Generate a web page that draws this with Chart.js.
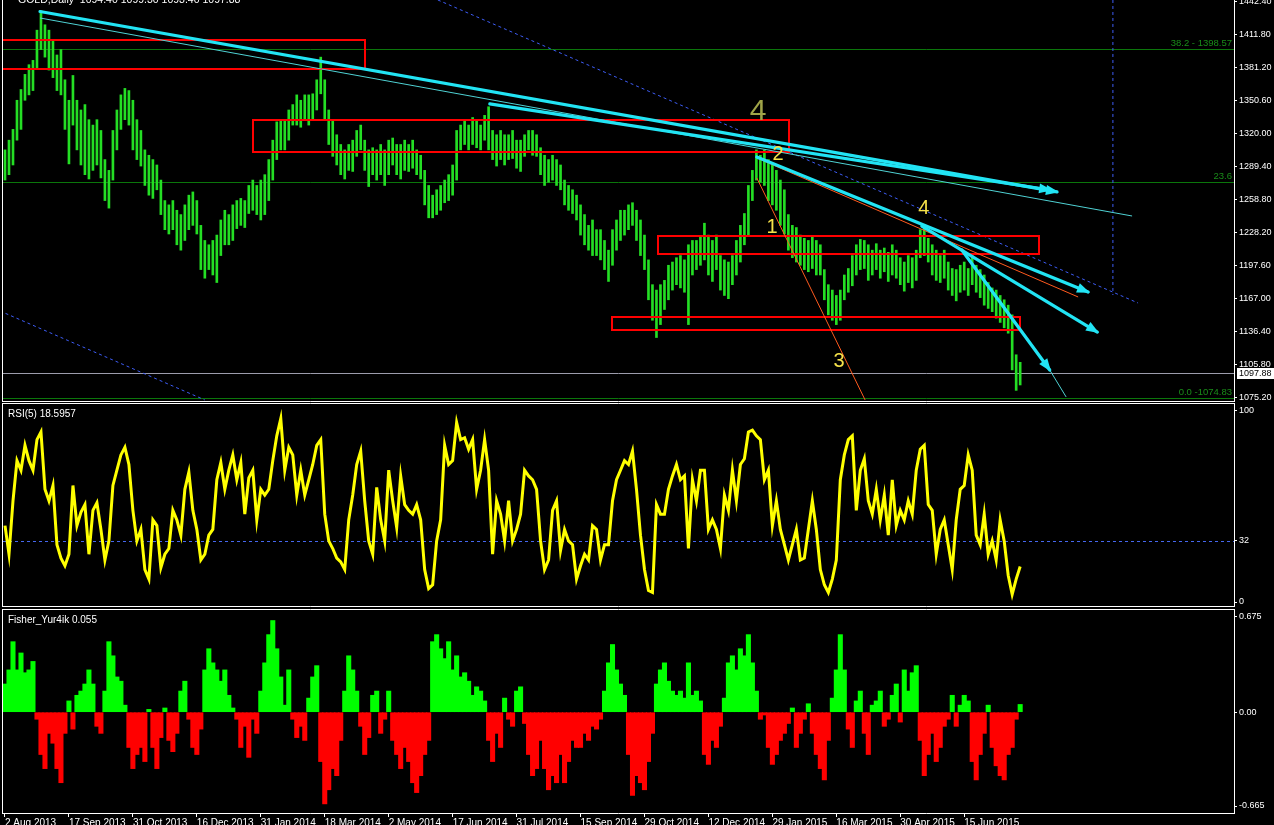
<!DOCTYPE html>
<html>
<head>
<meta charset="utf-8">
<title>GOLD,Daily</title>
<script src="https://cdn.jsdelivr.net/npm/chart.js@4.4.0/dist/chart.umd.min.js"></script>
<style>
html, body { margin: 0; padding: 0; background: #000; }
body { width: 1274px; height: 825px; position: relative; overflow: hidden; }
canvas { position: absolute; left: 0; }
#cPrice { top: 0; }
#cRsi { top: 403px; }
#cFisher { top: 609px; }
</style>
</head>
<body>
<canvas id="cPrice" width="1274" height="402"></canvas>
<canvas id="cRsi" width="1274" height="204"></canvas>
<canvas id="cFisher" width="1274" height="216"></canvas>
<script>
// one slot = two daily bars
var dateTicks = ['2 Aug 2013', '17 Sep 2013', '31 Oct 2013', '16 Dec 2013', '31 Jan 2014', '18 Mar 2014',
  '2 May 2014', '17 Jun 2014', '31 Jul 2014', '15 Sep 2014', '29 Oct 2014', '12 Dec 2014',
  '29 Jan 2015', '16 Mar 2015', '30 Apr 2015', '15 Jun 2015'];

var barHigh = [
  1305,1314,1324,1351,1361,1375,1384,1388,1416,1434,
  1421,1416,1407,1393,1398,1370,1351,1374,1351,1342,
  1347,1333,1328,1333,1323,1296,1286,1323,1342,1356,
  1362,1360,1351,1333,1323,1305,1300,1296,1291,1277,
  1258,1254,1258,1249,1245,1254,1263,1266,1258,1235,
  1221,1217,1221,1226,1240,1249,1245,1254,1258,1260,
  1258,1272,1277,1272,1277,1282,1296,1314,1331,1333,
  1333,1342,1347,1356,1351,1356,1356,1357,1370,1391,
  1370,1342,1333,1319,1310,1305,1310,1314,1323,1328,
  1314,1305,1307,1305,1310,1305,1314,1316,1310,1310,
  1314,1310,1314,1305,1300,1286,1272,1263,1268,1272,
  1277,1282,1291,1323,1328,1333,1328,1335,1333,1328,
  1337,1345,1323,1319,1323,1319,1319,1323,1314,1314,
  1319,1323,1323,1319,1307,1300,1296,1300,1296,1291,
  1277,1272,1268,1263,1254,1245,1235,1240,1231,1231,
  1221,1212,1231,1240,1249,1249,1254,1256,1249,1240,
  1226,1203,1180,1175,1180,1184,1198,1201,1205,1207,
  1203,1217,1221,1221,1225,1237,1226,1221,1226,1207,
  1203,1201,1207,1221,1235,1246,1272,1286,1305,1300,
  1305,1296,1291,1286,1277,1268,1245,1235,1233,1226,
  1223,1221,1225,1221,1217,1194,1180,1175,1170,1175,
  1189,1195,1207,1217,1222,1221,1217,1212,1218,1212,
  1214,1210,1217,1212,1205,1201,1207,1205,1212,1231,
  1236,1223,1217,1212,1207,1212,1201,1195,1194,1198,
  1201,1195,1207,1198,1194,1189,1182,1177,1175,1170,
  1166,1161,1152,1115,1108];

var barLow = [
  1277,1282,1291,1314,1324,1351,1356,1360,1381,1398,
  1391,1379,1372,1360,1356,1324,1292,1328,1305,1291,
  1282,1278,1286,1291,1279,1258,1251,1277,1305,1324,
  1333,1328,1305,1296,1290,1272,1263,1260,1268,1245,
  1231,1227,1231,1217,1212,1221,1231,1235,1227,1194,
  1186,1194,1189,1182,1207,1217,1217,1221,1232,1235,
  1233,1246,1249,1245,1240,1245,1258,1277,1296,1305,
  1305,1314,1328,1328,1326,1333,1328,1333,1342,1357,
  1333,1310,1299,1291,1282,1278,1286,1285,1299,1305,
  1286,1271,1282,1277,1282,1272,1282,1291,1282,1278,
  1286,1285,1288,1282,1278,1254,1242,1242,1245,1249,
  1256,1258,1263,1277,1305,1310,1305,1310,1307,1305,
  1314,1305,1296,1290,1296,1291,1296,1297,1288,1285,
  1299,1305,1300,1299,1282,1272,1275,1277,1272,1268,
  1254,1249,1246,1240,1226,1217,1212,1207,1207,1203,
  1194,1183,1198,1212,1221,1226,1231,1235,1221,1207,
  1194,1166,1147,1131,1143,1157,1166,1175,1180,1177,
  1173,1143,1189,1194,1198,1203,1189,1183,1194,1175,
  1170,1167,1180,1189,1201,1217,1226,1258,1277,1275,
  1272,1258,1254,1249,1235,1227,1212,1205,1201,1198,
  1194,1192,1195,1189,1189,1166,1152,1147,1143,1147,
  1166,1173,1179,1189,1194,1195,1184,1189,1194,1186,
  1192,1183,1189,1186,1180,1174,1182,1177,1184,1205,
  1207,1201,1189,1184,1182,1186,1175,1170,1165,1173,
  1175,1170,1180,1173,1168,1161,1158,1155,1149,1145,
  1140,1135,1101,1082,1087];

var rsiValues = [
  40,25,53,74,69,82,74,69,85,89,
  59,53,61,30,23,19,25,61,40,47,
  51,25,48,52,38,22,32,61,69,77,
  81,72,48,32,38,17,12,43,40,18,
  25,28,48,43,35,59,68,48,38,22,
  25,35,38,64,73,59,69,77,64,73,
  46,65,69,43,59,56,59,74,87,96,
  69,81,77,56,69,56,64,72,82,85,
  46,32,28,23,21,17,43,56,72,79,
  53,32,25,60,43,32,69,53,39,66,
  51,48,46,51,43,17,7,9,32,43,
  82,72,74,94,85,86,80,85,59,69,
  85,69,25,53,46,32,53,32,38,46,
  69,66,64,59,32,17,22,48,53,27,
  38,32,30,12,19,25,22,40,38,22,
  30,30,53,64,69,74,72,79,59,35,
  17,6,5,51,46,46,59,66,72,64,
  66,28,64,53,69,69,38,43,38,28,
  56,48,69,53,72,75,89,90,87,85,
  64,69,40,53,38,30,22,30,38,22,
  23,38,53,38,17,9,5,12,22,64,
  77,85,87,48,69,75,53,46,59,43,
  56,35,64,40,48,43,53,46,69,80,
  82,51,48,25,38,43,30,17,43,59,
  61,77,69,35,30,46,25,32,22,43,
  32,14,4,12,18.5957];

var fisherValues = [
  0.20,0.30,0.50,0.30,0.42,0.28,0.30,0.36,-0.05,-0.30,
  -0.40,-0.15,-0.22,-0.40,-0.50,-0.15,0.08,-0.12,0.12,0.15,
  0.20,0.30,0.20,-0.10,-0.15,0.15,0.50,0.40,0.25,0.22,
  0.05,-0.25,-0.40,-0.30,-0.25,-0.35,0.02,-0.25,-0.40,-0.18,
  0.03,-0.20,-0.28,-0.15,0.15,0.22,-0.05,-0.25,-0.30,-0.12,
  0.30,0.45,0.35,0.30,0.22,0.30,0.12,0.03,-0.05,-0.25,
  -0.10,-0.32,-0.05,-0.15,0.15,0.35,0.55,0.65,0.45,0.25,
  0.05,0.30,-0.05,-0.18,-0.10,-0.20,0.10,0.25,0.33,-0.35,
  -0.65,-0.55,-0.40,-0.45,-0.20,0.15,0.40,0.30,0.15,-0.10,
  -0.30,-0.18,0.12,0.15,-0.15,-0.05,0.15,-0.20,-0.30,-0.40,
  -0.25,-0.35,-0.50,-0.57,-0.45,-0.30,-0.20,0.50,0.55,0.45,
  0.38,0.50,0.30,0.40,0.25,0.28,0.22,0.12,0.18,0.15,
  0.08,-0.20,-0.35,-0.15,-0.25,0.10,-0.05,-0.10,0.15,0.18,
  -0.08,-0.30,-0.45,-0.40,-0.20,-0.40,-0.55,-0.45,-0.50,-0.30,
  -0.50,-0.35,-0.20,-0.25,-0.25,-0.15,-0.20,-0.10,-0.12,-0.05,
  0.15,0.35,0.48,0.30,0.20,0.12,-0.30,-0.59,-0.45,-0.50,
  -0.55,-0.35,-0.15,0.20,0.30,0.35,0.22,0.15,0.12,0.15,
  0.10,0.35,0.12,0.15,0.08,-0.30,-0.37,-0.20,-0.25,-0.10,
  0.10,0.35,0.40,0.30,0.45,0.40,0.55,0.35,0.15,-0.05,
  -0.02,-0.25,-0.37,-0.30,-0.20,-0.15,-0.08,0.03,-0.25,-0.15,
  -0.05,0.06,-0.15,-0.30,-0.40,-0.48,-0.20,0.10,0.30,0.55,
  0.30,-0.12,-0.25,0.08,0.15,-0.15,-0.30,0.05,0.08,0.15,
  -0.10,-0.05,0.12,0.20,-0.07,0.30,0.15,0.28,0.33,-0.20,
  -0.45,-0.30,-0.15,-0.35,-0.25,-0.10,-0.05,0.12,-0.10,0.05,
  0.12,0.08,-0.35,-0.48,-0.30,-0.15,0.05,-0.25,-0.38,-0.45,
  -0.48,-0.30,-0.25,-0.05,0.055];

var priceTicks = [1442.40, 1411.80, 1381.20, 1350.60, 1320.00, 1289.40, 1258.80, 1228.20, 1197.60, 1167.00, 1136.40, 1105.80, 1075.20];
var rsiTicks = [100, 32, 0];
var rsiLevel = 32;
var fisherTicks = [0.675, 0, -0.665];
var fisherTickText = ['0.675', '0.00', '-0.665'];

var lastClose = 1097.88;
var titleText = 'GOLD,Daily  1094.40 1099.30 1093.40 1097.88';
var fiboLevels = [1398.57, 1274.9, 1074.83];
var fiboText = ['38.2 - 1398.57', '23.6', '0.0 -1074.83'];

// chart objects in slot / price units
var zones = [[-3, 1407, 90, 1380], [62, 1333, 196, 1303], [163.5, 1224.7, 258.8, 1208], [151.8, 1150, 253.8, 1138]];
var thickLines = [[8.76, 1433.3, 263.2, 1266.0], [121.3, 1347.6, 261.5, 1267.8], [188.1, 1298.4, 271.0, 1173.2],
  [229.4, 1234.4, 273.3, 1136.1], [239.4, 1212.2, 261.4, 1100.9]];
var thinLines = [[8.76, 1427.3, 282.0, 1243.7], [261.4, 1100.9, 265.5, 1075.9]];
var orangeLines = [[188.1, 1297.5, 268.5, 1168.6], [188.1, 1279.0, 215.2, 1073.1]];
var dashedLines = [[108.3, 1444, 283.5, 1163.0], [-1.25, 1155.6, 50.0, 1073.1], [277.2, 1444, 277.2, 1170.4]];
var waveText = ['4', '2', '1', '3', '4'];
var waveSlot = [188.4, 193.4, 191.9, 208.7, 229.9];
var wavePrice = [1340.1, 1300.3, 1232.6, 1109.2, 1251.1];

var SLOTS = 308;
var slotLabels = [];
for (var i = 0; i < SLOTS; i++) {
  slotLabels.push(i % 16 === 0 && dateTicks[i / 16] ? dateTicks[i / 16] : '');
}

var sans = "'Liberation Sans', Arial, sans-serif";
var axisFont = { family: sans, size: 9 };

var panelFrame = {
  id: 'panelFrame',
  afterDraw: function (chart, args, opts) {
    var a = chart.chartArea, c = chart.ctx;
    c.save();
    c.strokeStyle = '#ffffff';
    c.lineWidth = 1;
    c.beginPath();
    if (opts.top) {
      c.moveTo(a.left - 1, a.top - 0.5); c.lineTo(a.right + 1, a.top - 0.5);
    }
    c.moveTo(a.left - 1, a.bottom + 0.5); c.lineTo(a.right + 1, a.bottom + 0.5);
    c.moveTo(a.left - 0.5, opts.top ? a.top - 1 : 0); c.lineTo(a.left - 0.5, a.bottom + 1);
    c.moveTo(a.right + 0.5, opts.top ? a.top - 1 : 0); c.lineTo(a.right + 0.5, a.bottom + 1);
    c.stroke();
    if (opts.label) {
      c.fillStyle = '#ffffff';
      c.font = '10px ' + sans;
      c.textAlign = 'left';
      c.textBaseline = 'top';
      c.fillText(opts.label, 8, a.top + 5);
    }
    c.restore();
  }
};

function pt(chart, slot, price) {
  return [chart.scales.x.getPixelForValue(slot), chart.scales.y.getPixelForValue(price)];
}

function drawSeg(chart, s) {
  var p = pt(chart, s[0], s[1]), q = pt(chart, s[2], s[3]);
  var c = chart.ctx;
  c.beginPath(); c.moveTo(p[0], p[1]); c.lineTo(q[0], q[1]); c.stroke();
  return [p, q];
}

function arrowHead(c, p, q) {
  var ang = Math.atan2(q[1] - p[1], q[0] - p[0]);
  var len = 11, half = 5;
  var bx = q[0] - Math.cos(ang) * len, by = q[1] - Math.sin(ang) * len;
  c.beginPath();
  c.moveTo(q[0] + Math.cos(ang) * 2, q[1] + Math.sin(ang) * 2);
  c.lineTo(bx - Math.sin(ang) * half, by + Math.cos(ang) * half);
  c.lineTo(bx + Math.sin(ang) * half, by - Math.cos(ang) * half);
  c.closePath();
  c.fill();
}

var priceOverlay = {
  id: 'priceOverlay',
  beforeDatasetsDraw: function (chart) {
    var c = chart.ctx, a = chart.chartArea, y = chart.scales.y;
    c.save();
    c.lineWidth = 1;
    c.strokeStyle = '#0b760b';
    fiboLevels.forEach(function (v) {
      var py = Math.round(y.getPixelForValue(v)) + 0.5;
      c.beginPath(); c.moveTo(a.left, py); c.lineTo(a.right, py); c.stroke();
    });
    c.strokeStyle = '#9c9cab';
    var by = Math.round(y.getPixelForValue(lastClose)) + 0.5;
    c.beginPath(); c.moveTo(a.left, by); c.lineTo(a.right, by); c.stroke();
    c.fillStyle = '#198c19';
    c.font = '9.5px ' + sans;
    c.textAlign = 'right';
    c.textBaseline = 'bottom';
    fiboLevels.forEach(function (v, i) {
      c.fillText(fiboText[i], a.right - 2, y.getPixelForValue(v) - 1);
    });
    c.restore();
  },
  afterDatasetsDraw: function (chart) {
    var c = chart.ctx, a = chart.chartArea;
    c.save();
    c.beginPath();
    c.rect(a.left, a.top, a.right - a.left, a.bottom - a.top);
    c.clip();

    // dashed channel lines
    c.strokeStyle = '#3d5cf5';
    c.lineWidth = 1;
    c.setLineDash([3, 3]);
    dashedLines.forEach(function (s) { drawSeg(chart, s); });
    c.setLineDash([]);

    // zones
    c.strokeStyle = '#ff0000';
    c.lineWidth = 2;
    zones.forEach(function (z) {
      var p = pt(chart, z[0], z[1]), q = pt(chart, z[2], z[3]);
      c.strokeRect(Math.round(p[0]), Math.round(p[1]), Math.round(q[0] - p[0]), Math.round(q[1] - p[1]));
    });

    // thin lines
    c.lineWidth = 1;
    c.strokeStyle = '#ff5a1e';
    orangeLines.forEach(function (s) { drawSeg(chart, s); });
    c.strokeStyle = '#4fd2d4';
    thinLines.forEach(function (s) { drawSeg(chart, s); });

    // thick trend lines with arrows
    c.strokeStyle = '#22e4f4';
    c.fillStyle = '#22e4f4';
    c.lineWidth = 3.2;
    c.lineCap = 'round';
    thickLines.forEach(function (s) {
      var e = drawSeg(chart, s);
      arrowHead(c, e[0], e[1]);
    });

    // wave marks
    c.textAlign = 'center';
    c.textBaseline = 'middle';
    waveText.forEach(function (t, i) {
      var p = pt(chart, waveSlot[i], wavePrice[i]);
      if (i === 0) {
        c.fillStyle = '#a0a448';
        c.font = '30px ' + sans;
      } else {
        c.fillStyle = '#f6e24a';
        c.font = '20px ' + sans;
      }
      c.fillText(t, p[0], p[1]);
    });
    c.restore();
  },
  afterDraw: function (chart) {
    var c = chart.ctx, a = chart.chartArea, y = chart.scales.y;
    c.save();
    c.fillStyle = '#ffffff';
    c.font = '10.5px ' + sans;
    c.textAlign = 'left';
    c.textBaseline = 'alphabetic';
    c.fillText(titleText, 18, 3);
    var py = Math.round(y.getPixelForValue(lastClose));
    c.fillRect(a.right + 3, py - 5, chart.width - a.right - 3, 11);
    c.fillStyle = '#000000';
    c.font = '9px ' + sans;
    c.textBaseline = 'middle';
    c.fillText(lastClose.toFixed(2), a.right + 5, py + 0.5);
    c.restore();
  }
};

var rsiOverlay = {
  id: 'rsiOverlay',
  beforeDatasetsDraw: function (chart) {
    var c = chart.ctx, a = chart.chartArea;
    var py = Math.round(chart.scales.y.getPixelForValue(rsiLevel)) + 0.5;
    c.save();
    c.strokeStyle = '#4567ee';
    c.lineWidth = 1;
    c.setLineDash([3, 3]);
    c.beginPath(); c.moveTo(a.left, py); c.lineTo(a.right, py); c.stroke();
    c.restore();
  }
};

function yScale(min, max, ticks, fmt) {
  return {
    position: 'right',
    min: min,
    max: max,
    afterFit: function (s) { s.width = 40; s.paddingTop = 0; s.paddingBottom = 0; },
    afterBuildTicks: function (s) { s.ticks = ticks.map(function (v) { return { value: v }; }); },
    ticks: { color: '#ffffff', font: axisFont, padding: 2, autoSkip: false, callback: fmt },
    grid: { drawOnChartArea: false, color: '#ffffff', tickLength: 3 },
    border: { display: false }
  };
}

function baseOptions(xScale, y, padTop, padBottom, pluginOpts) {
  var plugins = { legend: { display: false }, tooltip: { enabled: false } };
  for (var k in pluginOpts) plugins[k] = pluginOpts[k];
  return {
    responsive: false,
    animation: false,
    events: [],
    layout: { padding: { left: 3, right: 0, top: padTop, bottom: padBottom } },
    plugins: plugins,
    scales: { x: xScale, y: y }
  };
}

var hiddenX = { display: false, offset: true };

new Chart(document.getElementById('cPrice'), {
  type: 'bar',
  data: {
    labels: slotLabels,
    datasets: [{
      data: barLow.map(function (l, i) { return [l, barHigh[i]]; }),
      backgroundColor: '#24de24',
      borderWidth: 0,
      barThickness: 2
    }]
  },
  options: baseOptions(hiddenX,
    yScale(1072.14, 1443.98, priceTicks, function (v) { return Number(v).toFixed(2); }),
    0, 1, { panelFrame: { top: false } }),
  plugins: [priceOverlay, panelFrame]
});

new Chart(document.getElementById('cRsi'), {
  type: 'line',
  data: {
    labels: slotLabels,
    datasets: [{
      data: rsiValues,
      borderColor: '#ffff00',
      borderWidth: 3,
      pointRadius: 0,
      tension: 0
    }]
  },
  options: baseOptions(hiddenX,
    yScale(-2.09, 103.66, rsiTicks, function (v) { return String(v); }),
    1, 1, { panelFrame: { top: true, label: 'RSI(5) 18.5957' } }),
  plugins: [rsiOverlay, panelFrame]
});

new Chart(document.getElementById('cFisher'), {
  type: 'bar',
  data: {
    labels: slotLabels,
    datasets: [{
      data: fisherValues,
      backgroundColor: function (ctx) { return ctx.raw >= 0 ? '#00ff00' : '#ff0000'; },
      borderWidth: 0,
      barThickness: 4.4
    }]
  },
  options: baseOptions({
      offset: true,
      afterFit: function (s) { s.height = 12; s.paddingLeft = 0; s.paddingRight = 0; },
      ticks: {
        color: '#ffffff', font: { family: sans, size: 10 }, padding: 0, autoSkip: false,
        maxRotation: 0, minRotation: 0, align: 'start',
        callback: function (v, i) { return slotLabels[i]; }
      },
      grid: {
        drawOnChartArea: false, offset: false, tickLength: 4,
        color: function (ctx) { return slotLabels[ctx.index] ? '#ffffff' : 'rgba(0,0,0,0)'; }
      },
      border: { display: false }
    },
    yScale(-0.7146, 0.7246, fisherTicks, function (v, i) { return fisherTickText[i]; }),
    1, 0, { panelFrame: { top: true, label: 'Fisher_Yur4ik 0.055' } }),
  plugins: [panelFrame]
});
</script>
</body>
</html>
